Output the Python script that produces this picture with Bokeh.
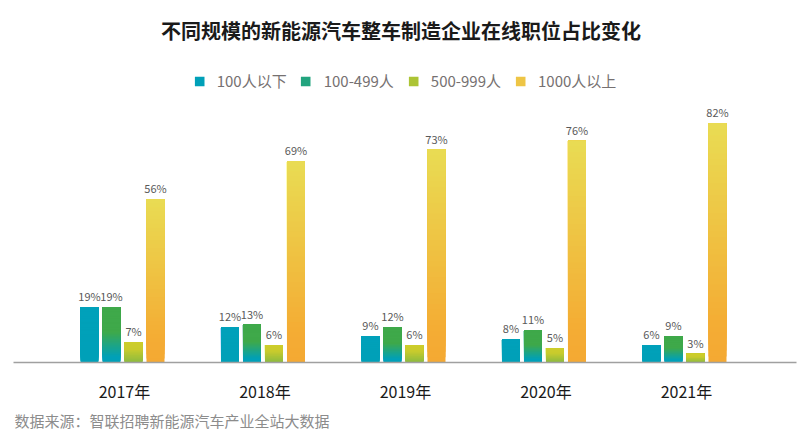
from bokeh.plotting import figure
from bokeh.models import Range1d, FixedTicker, Title, Legend, LegendItem, ColumnDataSource
from bokeh.embed import file_html
from bokeh.resources import INLINE
from bokeh.core.properties import value

# ---- data ----
years = ["2017年", "2018年", "2019年", "2020年", "2021年"]
series_names = ["100人以下", "100-499人", "500-999人", "1000人以上"]
s_lt100 = [19, 12, 9, 8, 6]
s_100_499 = [19, 13, 12, 11, 9]
s_500_999 = [7, 6, 6, 5, 3]
s_ge1000 = [56, 69, 73, 76, 82]
all_series = [s_lt100, s_100_499, s_500_999, s_ge1000]

title_text = "不同规模的新能源汽车整车制造企业在线职位占比变化"
source_text = "数据来源：智联招聘新能源汽车产业全站大数据"

# gradient stops per series (0 = top of bar, 1 = bottom)
grad_stops = [
    [(0.0, "#00A1BA"), (1.0, "#00A0B8")],
    [(0.0, "#3FA94A"), (0.45, "#3FA94A"), (0.9, "#00A0B8"), (1.0, "#00A0B8")],
    [(0.0, "#CDCD2B"), (0.35, "#C9CB2D"), (1.0, "#8ABA40")],
    [(0.0, "#E9DC53"), (0.85, "#F4AC34"), (1.0, "#F4A933")],
]
legend_colors = ["#00A0B8", "#22A47E", "#ACC435", "#EEC545"]

FONT = "Noto Sans CJK SC"


def hex2rgb(h):
    h = h.lstrip("#")
    return tuple(int(h[i:i + 2], 16) for i in (0, 2, 4))


def interp(stops, t):
    for (t0, c0), (t1, c1) in zip(stops[:-1], stops[1:]):
        if t0 <= t <= t1:
            f = 0 if t1 == t0 else (t - t0) / (t1 - t0)
            a, b = hex2rgb(c0), hex2rgb(c1)
            r = [round(a[k] + (b[k] - a[k]) * f) for k in range(3)]
            return "#%02x%02x%02x" % tuple(r)
    return stops[-1][1]


W, H = 800, 433
x_rng = Range1d(-0.790, 4.783)
y_rng = Range1d(0, 124.1)
p = figure(width=W, height=H, output_backend="svg", toolbar_location=None,
           x_range=x_rng, y_range=y_rng,
           min_border_left=13, min_border_right=4, min_border_top=0,
           min_border_bottom=60)
p.outline_line_color = None
p.grid.visible = False
p.yaxis.visible = False
p.background_fill_color = "white"
p.border_fill_color = "white"

unit = 140.5
pitch = 22 / unit
bw = 18 / unit
N = 40
legend_items = []
for j, vals in enumerate(all_series):
    L, R, B, T, C = [], [], [], [], []
    for i, v in enumerate(vals):
        cx = i + (j - 1.5) * pitch - 2 / unit
        for k in range(N):
            L.append(cx - bw / 2)
            R.append(cx + bw / 2)
            B.append(v * k / N)
            T.append(v)
            C.append(interp(grad_stops[j], 1 - (k + 0.5) / N))
    src = ColumnDataSource(dict(left=L, right=R, bottom=B, top=T, color=C))
    p.quad(left="left", right="right", bottom="bottom", top="top",
           fill_color="color", line_color=None, source=src)
    lsrc = ColumnDataSource(dict(x=[0], y=[0], c=[legend_colors[j]]))
    lr = p.rect(x="x", y="y", width=0, height=0, fill_color="c", line_color=None,
                source=lsrc)
    legend_items.append(LegendItem(label=series_names[j], renderers=[lr]))

    lab = ColumnDataSource(dict(x=[i + (j - 1.5) * pitch - 2 / unit for i in range(len(vals))],
                                y=vals, t=[f"{v}%" for v in vals]))
    p.text(x="x", y="y", text="t", source=lab, text_align="center",
           text_baseline="bottom", y_offset=-3, text_font_size="11px",
           text_color="#595959", text_font=value(FONT))

# title drawn at the top of the frame
tsrc = ColumnDataSource(dict(x=[(x_rng.start + x_rng.end) / 2], y=[y_rng.end], t=[title_text]))
p.text(x="x", y="y", text="t", source=tsrc, text_align="center", text_baseline="middle",
       x_offset=-4, y_offset=30, text_font_size="20px", text_font_style="bold",
       text_color="#1a1a1a", text_font=value(FONT))

p.xaxis.ticker = FixedTicker(ticks=list(range(len(years))))
p.xaxis.major_label_overrides = {i: y for i, y in enumerate(years)}
p.xaxis.major_tick_line_color = None
p.xaxis.minor_tick_line_color = None
p.xaxis.axis_line_color = "#A0A0A0"
p.xaxis.axis_line_width = 1.5
p.xaxis.major_label_standoff = 10
p.xaxis.major_label_text_font = FONT
p.xaxis.major_label_text_font_size = "16px"
p.xaxis.major_label_text_color = "#1a1a1a"

legend = Legend(items=legend_items, orientation="horizontal", location="top_center",
                glyph_width=12, glyph_height=12, label_standoff=12, spacing=13,
                padding=0, margin=70, border_line_color=None,
                background_fill_alpha=0, label_text_font=FONT,
                label_text_font_size="15px", label_text_color="#767171")
p.add_layout(legend, "center")

p.add_layout(Title(text=source_text, align="left", text_font=FONT,
                   text_font_size="15px", text_font_style="normal",
                   text_color="#8c8c8c", offset=1, standoff=5), "below")

open("out.html", "w").write(file_html(p, INLINE))
